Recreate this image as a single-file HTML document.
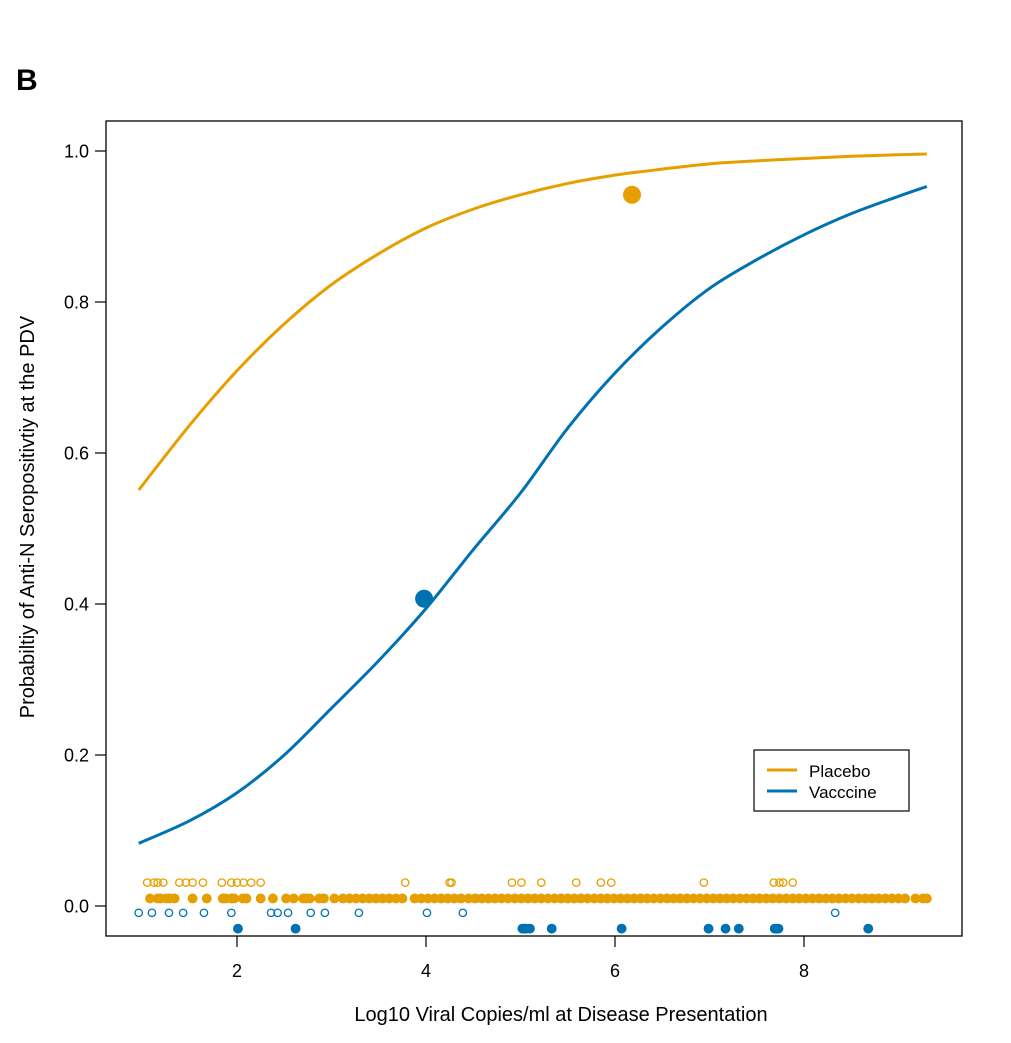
<!DOCTYPE html>
<html><head><meta charset="utf-8"><style>
body{margin:0;background:#fff;}
svg text{font-family:"Liberation Sans",Arial,sans-serif;}
</style></head><body>
<svg id="chart" width="1011" height="1038" xmlns="http://www.w3.org/2000/svg">
<text x="16" y="90" font-size="30" font-weight="bold">B</text>
<rect x="106" y="121" width="856" height="815" fill="none" stroke="#000" stroke-width="1.3"/>
<g id="axes"></g>
<g id="marks"></g>
<text x="561" y="1021" font-size="20" text-anchor="middle">Log10 Viral Copies/ml at Disease Presentation</text>
<text transform="translate(34,517) rotate(-90)" font-size="20" text-anchor="middle">Probabiltiy of Anti-N Seropositivtiy at the PDV</text>
<g>
<rect x="754" y="750" width="155" height="61" fill="#fff" stroke="#000" stroke-width="1.2"/>
<line x1="767" y1="770" x2="797" y2="770" stroke="#E69F00" stroke-width="3"/>
<text x="809" y="777" font-size="17">Placebo</text>
<line x1="767" y1="791" x2="797" y2="791" stroke="#0072B2" stroke-width="3"/>
<text x="809" y="798" font-size="17">Vacccine</text>
</g>
</svg>
<script>
const xTicks=[2,4,6,8];
const yTicks=[0,0.2,0.4,0.6,0.8,1.0];
const yTickLabels=["0.0","0.2","0.4","0.6","0.8","1.0"];
const curveX=[0.96,1.5,2,2.5,3,3.5,4,4.5,5,5.5,6,6.5,7,7.5,8,8.5,9,9.3];
const placeboCurve=[0.551,0.637,0.709,0.771,0.823,0.864,0.898,0.923,0.942,0.957,0.968,0.976,0.983,0.987,0.990,0.993,0.995,0.996];
const vaccineCurve=[0.083,0.113,0.150,0.200,0.262,0.325,0.394,0.472,0.547,0.633,0.706,0.767,0.818,0.856,0.889,0.917,0.940,0.953];
const placeboPoint=[6.18,0.942];
const vaccinePoint=[3.98,0.407];
const placeboOpen=[1.05,1.12,1.16,1.22,1.39,1.46,1.53,1.64,1.84,1.94,2.00,2.07,2.15,2.25,3.78,4.25,4.27,4.91,5.01,5.22,5.59,5.85,5.96,6.94,7.68,7.74,7.78,7.88];
const placeboFilled=[1.08,1.16,1.19,1.25,1.29,1.34,1.53,1.68,1.85,1.88,1.94,1.97,2.06,2.10,2.25,2.38,2.52,2.60,2.70,2.73,2.77,2.87,2.92,3.03,3.12,3.19,3.26,3.33,3.40,3.47,3.54,3.61,3.68,3.75,3.88,3.95,4.02,4.09,4.16,4.23,4.30,4.37,4.45,4.52,4.59,4.66,4.73,4.80,4.87,4.94,5.01,5.08,5.15,5.22,5.29,5.36,5.43,5.50,5.57,5.64,5.71,5.78,5.85,5.92,5.99,6.06,6.13,6.20,6.27,6.34,6.41,6.48,6.55,6.62,6.69,6.76,6.83,6.90,6.97,7.04,7.11,7.18,7.25,7.32,7.39,7.46,7.53,7.60,7.67,7.74,7.81,7.88,7.95,8.02,8.09,8.16,8.23,8.30,8.37,8.44,8.51,8.58,8.65,8.72,8.79,8.86,8.93,9.00,9.07,9.18,9.26,9.30];
const vaccineOpen=[0.96,1.10,1.28,1.43,1.65,1.94,2.36,2.43,2.54,2.78,2.93,3.29,4.01,4.39,8.33];
const vaccineFilled=[2.01,2.62,5.02,5.04,5.06,5.10,5.33,6.07,6.99,7.17,7.31,7.69,7.71,7.73,8.68];
const rowY={placeboOpen:0.031,placeboFilled:0.010,vaccineOpen:-0.009,vaccineFilled:-0.030};

const NS="http://www.w3.org/2000/svg";
function sx(v){return 237+(v-2)*94.5;}
function sy(v){return 906-v*755;}
const axes=document.getElementById('axes'), marks=document.getElementById('marks');
function mk(tag,attrs,parent){const e=document.createElementNS(NS,tag);for(const k in attrs)e.setAttribute(k,attrs[k]);parent.appendChild(e);return e;}
xTicks.forEach(t=>{
  const l=mk('line',{x1:sx(t),x2:sx(t),y1:936,y2:947,stroke:'#000','stroke-width':1.2},axes);
  
  
  const tx=mk('text',{x:sx(t),y:977,'font-size':18,'text-anchor':'middle'},axes);tx.textContent=t;
  
  
});
yTicks.forEach((t,i)=>{
  const l=mk('line',{x1:95,x2:106,y1:sy(t),y2:sy(t),stroke:'#000','stroke-width':1.2},axes);
  
  
  const tx=mk('text',{x:89,y:sy(t)+6.5,'font-size':18,'text-anchor':'end'},axes);tx.textContent=yTickLabels[i];
  
  
});
function smooth(xs,ys){
  const p=xs.map((x,i)=>[sx(x),sy(ys[i])]);
  let d='M'+p[0][0]+','+p[0][1];
  for(let i=0;i<p.length-1;i++){
    const p0=p[Math.max(0,i-1)],p1=p[i],p2=p[i+1],p3=p[Math.min(p.length-1,i+2)];
    const c1=[p1[0]+(p2[0]-p0[0])/6,p1[1]+(p2[1]-p0[1])/6];
    const c2=[p2[0]-(p3[0]-p1[0])/6,p2[1]-(p3[1]-p1[1])/6];
    d+=' C'+c1+' '+c2+' '+p2;
  }
  return d;
}
const pc=mk('path',{d:smooth(curveX,placeboCurve),fill:'none',stroke:'#E69F00','stroke-width':3},marks);


const vc=mk('path',{d:smooth(curveX,vaccineCurve),fill:'none',stroke:'#0072B2','stroke-width':3},marks);


function rug(arr,y,color,filled,name){
  arr.forEach(v=>{
    const c=mk('circle',{cx:sx(v),cy:sy(y),r:filled?4.3:3.7,fill:filled?color:'none',stroke:color,'stroke-width':1.3},marks);
    
    
  });
}
rug(placeboOpen,rowY.placeboOpen,'#E69F00',false,'placebo-negative-point');
rug(placeboFilled,rowY.placeboFilled,'#E69F00',true,'placebo-positive-point');
rug(vaccineOpen,rowY.vaccineOpen,'#0072B2',false,'vaccine-negative-point');
rug(vaccineFilled,rowY.vaccineFilled,'#0072B2',true,'vaccine-positive-point');
const bp=mk('circle',{cx:sx(placeboPoint[0]),cy:sy(placeboPoint[1]),r:9,fill:'#E69F00'},marks);


const bv=mk('circle',{cx:sx(vaccinePoint[0]),cy:sy(vaccinePoint[1]),r:9,fill:'#0072B2'},marks);


</script>
</body></html>
